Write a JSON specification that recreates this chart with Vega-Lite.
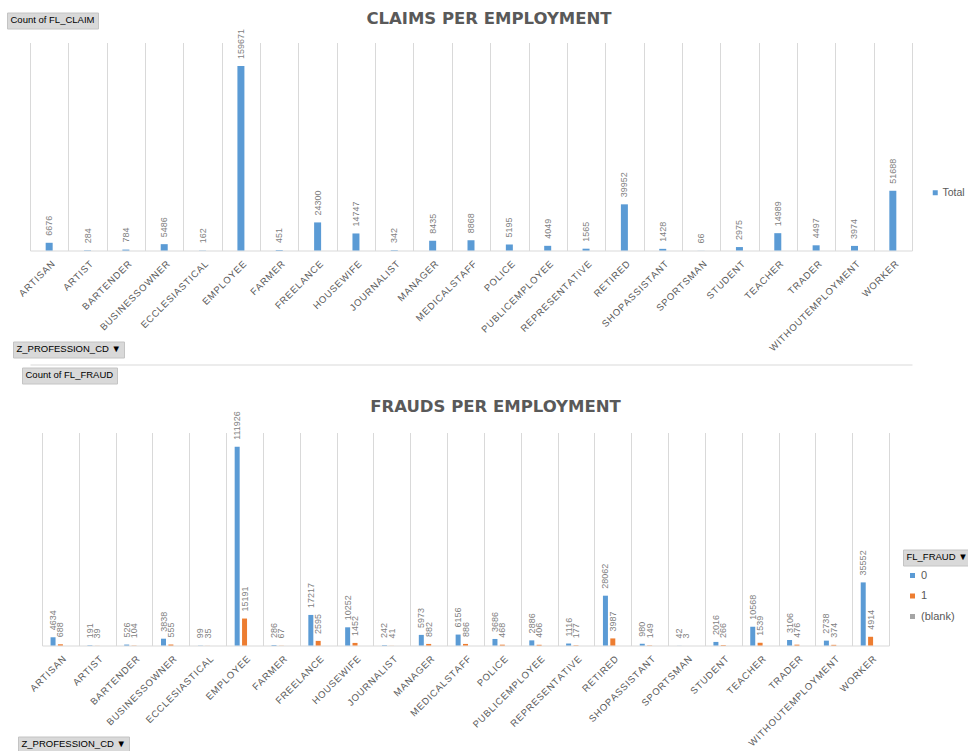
{
  "$schema": "https://vega.github.io/schema/vega-lite/v6.json",
  "background": "white",
  "padding": {"left": 6, "top": 10.5, "right": 0, "bottom": 0},
  "bounds": "flush",
  "spacing": 182,
  "config": {
    "view": {"stroke": null},
    "font": "Liberation Sans",
    "text": {"font": "Liberation Sans"},
    "legend": {"labelFont": "Liberation Sans"}
  },
  "resolve": {
    "scale": {"color": "independent", "opacity": "independent", "strokeDash": "independent"},
    "legend": {"color": "independent", "opacity": "independent", "strokeDash": "independent"}
  },
  "vconcat": [
    {
      "width": 882,
      "height": 208,
      "title": {
        "text": "CLAIMS PER EMPLOYMENT",
        "anchor": "middle",
        "frame": "group",
        "dx": 18,
        "offset": -31.7,
        "baseline": "bottom",
        "font": "DejaVu Sans",
        "fontSize": 16.5,
        "fontWeight": "bold",
        "color": "#595959"
      },
      "data": {
        "values": [
          {"profession": "ARTISAN", "claims": 6676},
          {"profession": "ARTIST", "claims": 284},
          {"profession": "BARTENDER", "claims": 784},
          {"profession": "BUSINESSOWNER", "claims": 5486},
          {"profession": "ECCLESIASTICAL", "claims": 162},
          {"profession": "EMPLOYEE", "claims": 159671},
          {"profession": "FARMER", "claims": 451},
          {"profession": "FREELANCE", "claims": 24300},
          {"profession": "HOUSEWIFE", "claims": 14747},
          {"profession": "JOURNALIST", "claims": 342},
          {"profession": "MANAGER", "claims": 8435},
          {"profession": "MEDICALSTAFF", "claims": 8868},
          {"profession": "POLICE", "claims": 5195},
          {"profession": "PUBLICEMPLOYEE", "claims": 4049},
          {"profession": "REPRESENTATIVE", "claims": 1565},
          {"profession": "RETIRED", "claims": 39952},
          {"profession": "SHOPASSISTANT", "claims": 1428},
          {"profession": "SPORTSMAN", "claims": 66},
          {"profession": "STUDENT", "claims": 2975},
          {"profession": "TEACHER", "claims": 14989},
          {"profession": "TRADER", "claims": 4497},
          {"profession": "WITHOUTEMPLOYMENT", "claims": 3974},
          {"profession": "WORKER", "claims": 51688}
        ]
      },
      "resolve": {"axis": {"x": "independent"}},
      "layer": [
        {
          "mark": {"type": "bar", "size": 7},
          "encoding": {
            "x": {
              "field": "profession",
              "type": "nominal",
              "sort": null,
              "scale": {"paddingInner": 0, "paddingOuter": 0},
              "axis": {
                "orient": "bottom",
                "title": null,
                "labelAngle": -45,
                "labelAlign": "right",
                "labelBaseline": "top",
                "labelPadding": 8,
                "labelFontSize": 9.5,
                "labelColor": "#595959",
                "labelExpr": "join(split(datum.label, ''), '\u200a')",
                "labelOverlap": false,
                "labelFlush": false,
                "labelLimit": 400,
                "ticks": false,
                "tickBand": "extent",
                "grid": true,
                "gridColor": "#d9d9d9",
                "domainColor": "#d9d9d9"
              }
            },
            "y": {
              "field": "claims",
              "type": "quantitative",
              "scale": {"domain": [0, 180000]},
              "axis": null
            },
            "color": {
              "datum": "Total",
              "type": "nominal",
              "scale": {"domain": ["Total"], "range": ["#5B9BD5"]},
              "legend": {
                "orient": "none",
                "legendX": 900,
                "legendY": 145,
                "title": null,
                "symbolType": "square",
                "symbolSize": 25,
                "labelFontSize": 10.5,
                "labelColor": "#595959",
                "labelOffset": 2,
                "padding": 0
              }
            },
            "opacity": {
              "datum": "Count of FL_CLAIM",
              "type": "ordinal",
              "scale": {"domain": ["Count of FL_CLAIM"], "range": [1, 1]},
              "legend": {
                "orient": "none",
                "legendX": -23,
                "legendY": -30,
                "title": null,
                "fillColor": "#d9d9d9",
                "strokeColor": "#c4c4c4",
                "padding": 3,
                "symbolSize": 0.01,
                "symbolStrokeWidth": 0,
                "labelOffset": -9,
                "labelFontSize": 9.5,
                "labelColor": "#000000"
              }
            },
            "strokeDash": {
              "datum": "Z_PROFESSION_CD ▼",
              "type": "nominal",
              "scale": {"domain": ["Z_PROFESSION_CD ▼"], "range": [[1, 0]]},
              "legend": {
                "orient": "none",
                "legendX": -17,
                "legendY": 299,
                "title": null,
                "fillColor": "#d9d9d9",
                "strokeColor": "#c4c4c4",
                "padding": 3,
                "symbolSize": 0.01,
                "symbolStrokeWidth": 0,
                "labelOffset": -9,
                "labelFontSize": 9.5,
                "labelColor": "#000000"
              }
            }
          }
        },
        {
          "mark": {
            "type": "text",
            "angle": 270,
            "align": "left",
            "baseline": "middle",
            "dx": 7,
            "fontSize": 9,
            "color": "#7f7f7f"
          },
          "encoding": {
            "x": {
              "field": "profession",
              "type": "nominal",
              "sort": null,
              "axis": {
                "orient": "bottom",
                "offset": 114,
                "title": null,
                "labels": false,
                "ticks": false,
                "grid": false,
                "domain": true,
                "domainColor": "#d9d9d9"
              }
            },
            "y": {"field": "claims", "type": "quantitative"},
            "text": {"field": "claims", "type": "quantitative", "format": "d"}
          }
        }
      ]
    },
    {
      "bounds": "flush",
      "spacing": 11,
      "hconcat": [
        {
          "width": 1,
          "height": 1,
          "data": {"values": []},
          "mark": "rule",
          "encoding": {}
        },
        {
          "width": 847,
          "height": 213,
          "title": {
            "text": "FRAUDS PER EMPLOYMENT",
            "anchor": "middle",
            "frame": "group",
            "dx": 30,
            "offset": -64.4,
            "baseline": "bottom",
            "font": "DejaVu Sans",
            "fontSize": 16.5,
            "fontWeight": "bold",
            "color": "#595959"
          },
          "data": {
            "values": [
              {"profession": "ARTISAN", "fraud": "0", "count": 4634},
              {"profession": "ARTISAN", "fraud": "1", "count": 688},
              {"profession": "ARTIST", "fraud": "0", "count": 191},
              {"profession": "ARTIST", "fraud": "1", "count": 39},
              {"profession": "BARTENDER", "fraud": "0", "count": 526},
              {"profession": "BARTENDER", "fraud": "1", "count": 104},
              {"profession": "BUSINESSOWNER", "fraud": "0", "count": 3838},
              {"profession": "BUSINESSOWNER", "fraud": "1", "count": 555},
              {"profession": "ECCLESIASTICAL", "fraud": "0", "count": 99},
              {"profession": "ECCLESIASTICAL", "fraud": "1", "count": 35},
              {"profession": "EMPLOYEE", "fraud": "0", "count": 111926},
              {"profession": "EMPLOYEE", "fraud": "1", "count": 15191},
              {"profession": "FARMER", "fraud": "0", "count": 286},
              {"profession": "FARMER", "fraud": "1", "count": 67},
              {"profession": "FREELANCE", "fraud": "0", "count": 17217},
              {"profession": "FREELANCE", "fraud": "1", "count": 2595},
              {"profession": "HOUSEWIFE", "fraud": "0", "count": 10252},
              {"profession": "HOUSEWIFE", "fraud": "1", "count": 1452},
              {"profession": "JOURNALIST", "fraud": "0", "count": 242},
              {"profession": "JOURNALIST", "fraud": "1", "count": 41},
              {"profession": "MANAGER", "fraud": "0", "count": 5973},
              {"profession": "MANAGER", "fraud": "1", "count": 882},
              {"profession": "MEDICALSTAFF", "fraud": "0", "count": 6156},
              {"profession": "MEDICALSTAFF", "fraud": "1", "count": 886},
              {"profession": "POLICE", "fraud": "0", "count": 3686},
              {"profession": "POLICE", "fraud": "1", "count": 468},
              {"profession": "PUBLICEMPLOYEE", "fraud": "0", "count": 2886},
              {"profession": "PUBLICEMPLOYEE", "fraud": "1", "count": 406},
              {"profession": "REPRESENTATIVE", "fraud": "0", "count": 1116},
              {"profession": "REPRESENTATIVE", "fraud": "1", "count": 177},
              {"profession": "RETIRED", "fraud": "0", "count": 28062},
              {"profession": "RETIRED", "fraud": "1", "count": 3987},
              {"profession": "SHOPASSISTANT", "fraud": "0", "count": 980},
              {"profession": "SHOPASSISTANT", "fraud": "1", "count": 149},
              {"profession": "SPORTSMAN", "fraud": "0", "count": 42},
              {"profession": "SPORTSMAN", "fraud": "1", "count": 3},
              {"profession": "STUDENT", "fraud": "0", "count": 2016},
              {"profession": "STUDENT", "fraud": "1", "count": 266},
              {"profession": "TEACHER", "fraud": "0", "count": 10568},
              {"profession": "TEACHER", "fraud": "1", "count": 1539},
              {"profession": "TRADER", "fraud": "0", "count": 3106},
              {"profession": "TRADER", "fraud": "1", "count": 476},
              {"profession": "WITHOUTEMPLOYMENT", "fraud": "0", "count": 2738},
              {"profession": "WITHOUTEMPLOYMENT", "fraud": "1", "count": 374},
              {"profession": "WORKER", "fraud": "0", "count": 35552},
              {"profession": "WORKER", "fraud": "1", "count": 4914}
            ]
          },
          "resolve": {
            "scale": {"opacity": "independent"},
            "legend": {"opacity": "independent"}
          },
          "encoding": {
            "x": {
              "field": "profession",
              "type": "nominal",
              "sort": null,
              "scale": {"paddingInner": 0, "paddingOuter": 0},
              "axis": {
                "orient": "bottom",
                "title": null,
                "labelAngle": -45,
                "labelAlign": "right",
                "labelBaseline": "top",
                "labelPadding": 8,
                "labelFontSize": 9.5,
                "labelColor": "#595959",
                "labelExpr": "join(split(datum.label, ''), '\u200a')",
                "labelOverlap": false,
                "labelFlush": false,
                "labelLimit": 400,
                "ticks": false,
                "tickBand": "extent",
                "grid": true,
                "gridColor": "#d9d9d9",
                "domainColor": "#d9d9d9"
              }
            },
            "xOffset": {
              "field": "fraud",
              "type": "nominal",
              "scale": {"domain": ["0", "1", "(blank)"], "paddingInner": 0, "paddingOuter": 1}
            },
            "y": {
              "field": "count",
              "type": "quantitative",
              "scale": {"domain": [0, 120000]},
              "axis": null
            }
          },
          "layer": [
            {
              "mark": {"type": "bar", "size": 5},
              "encoding": {
                "color": {
                  "field": "fraud",
                  "type": "nominal",
                  "scale": {"domain": ["0", "1", "(blank)"], "range": ["#5B9BD5", "#ED7D31", "#A5A5A5"]},
                  "legend": {
                    "orient": "none",
                    "legendX": 877,
                    "legendY": 137.5,
                    "title": null,
                    "symbolType": "square",
                    "symbolSize": 25,
                    "labelFontSize": 11,
                    "labelColor": "#595959",
                    "labelOffset": 3,
                    "rowPadding": 8.5,
                    "padding": 0
                  }
                },
                "opacity": {
                  "datum": "Count of FL_FRAUD",
                  "type": "ordinal",
                  "scale": {"domain": ["Count of FL_FRAUD"], "range": [1, 1]},
                  "legend": {
                    "orient": "none",
                    "legendX": -20,
                    "legendY": -65,
                    "title": null,
                    "fillColor": "#d9d9d9",
                    "strokeColor": "#c4c4c4",
                    "padding": 3,
                    "symbolSize": 0.01,
                    "symbolStrokeWidth": 0,
                    "labelOffset": -9,
                    "labelFontSize": 9.5,
                    "labelColor": "#000000"
                  }
                },
                "strokeDash": {
                  "datum": "FL_FRAUD ▼",
                  "type": "nominal",
                  "scale": {"domain": ["FL_FRAUD ▼"], "range": [[1, 0]]},
                  "legend": {
                    "orient": "none",
                    "legendX": 873,
                    "legendY": 117,
                    "title": null,
                    "fillColor": "#d9d9d9",
                    "strokeColor": "#c4c4c4",
                    "padding": 3,
                    "symbolSize": 0.01,
                    "symbolStrokeWidth": 0,
                    "labelOffset": -9,
                    "labelFontSize": 9.5,
                    "labelColor": "#000000"
                  }
                }
              }
            },
            {
              "mark": {
                "type": "text",
                "angle": 270,
                "align": "left",
                "baseline": "middle",
                "dx": 7,
                "fontSize": 9,
                "color": "#7f7f7f"
              },
              "encoding": {
                "text": {"field": "count", "type": "quantitative", "format": "d"},
                "opacity": {
                  "datum": "Z_PROFESSION_CD ▼",
                  "type": "ordinal",
                  "scale": {"domain": ["Z_PROFESSION_CD ▼"], "range": [1, 1]},
                  "legend": {
                    "orient": "none",
                    "legendX": -24,
                    "legendY": 304,
                    "title": null,
                    "fillColor": "#d9d9d9",
                    "strokeColor": "#c4c4c4",
                    "padding": 3,
                    "symbolSize": 0.01,
                    "symbolStrokeWidth": 0,
                    "labelOffset": -9,
                    "labelFontSize": 9.5,
                    "labelColor": "#000000"
                  }
                }
              }
            }
          ]
        }
      ]
    }
  ]
}
